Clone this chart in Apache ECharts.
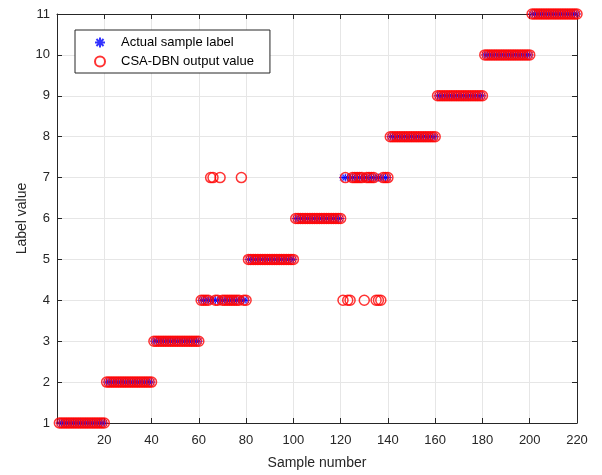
<!DOCTYPE html>
<html>
<head>
<meta charset="utf-8">
<script src="https://cdn.jsdelivr.net/npm/echarts@6/dist/echarts.min.js"></script>
<style>html,body{margin:0;padding:0;background:#fff}#c{width:602px;height:475px}</style>
</head>
<body>
<div id="c"></div>
<script>
// Actual class label of each sample (samples 1..220)
var actualLabel = [
  1,1,1,1,1,1,1,1,1,1,1,1,1,1,1,1,1,1,1,1,
  2,2,2,2,2,2,2,2,2,2,2,2,2,2,2,2,2,2,2,2,
  3,3,3,3,3,3,3,3,3,3,3,3,3,3,3,3,3,3,3,3,
  4,4,4,4,4,4,4,4,4,4,4,4,4,4,4,4,4,4,4,4,
  5,5,5,5,5,5,5,5,5,5,5,5,5,5,5,5,5,5,5,5,
  6,6,6,6,6,6,6,6,6,6,6,6,6,6,6,6,6,6,6,6,
  7,7,7,7,7,7,7,7,7,7,7,7,7,7,7,7,7,7,7,7,
  8,8,8,8,8,8,8,8,8,8,8,8,8,8,8,8,8,8,8,8,
  9,9,9,9,9,9,9,9,9,9,9,9,9,9,9,9,9,9,9,9,
  10,10,10,10,10,10,10,10,10,10,10,10,10,10,10,10,10,10,10,10,
  11,11,11,11,11,11,11,11,11,11,11,11,11,11,11,11,11,11,11,11
];
// CSA-DBN output value of each sample
var outputLabel = [
  1,1,1,1,1,1,1,1,1,1,1,1,1,1,1,1,1,1,1,1,
  2,2,2,2,2,2,2,2,2,2,2,2,2,2,2,2,2,2,2,2,
  3,3,3,3,3,3,3,3,3,3,3,3,3,3,3,3,3,3,3,3,
  4,4,4,4,7,7,4,4,7,4,4,4,4,4,4,4,4,7,4,4,
  5,5,5,5,5,5,5,5,5,5,5,5,5,5,5,5,5,5,5,5,
  6,6,6,6,6,6,6,6,6,6,6,6,6,6,6,6,6,6,6,6,
  4,7,4,4,7,7,7,7,7,4,7,7,7,7,4,4,4,7,7,7,
  8,8,8,8,8,8,8,8,8,8,8,8,8,8,8,8,8,8,8,8,
  9,9,9,9,9,9,9,9,9,9,9,9,9,9,9,9,9,9,9,9,
  10,10,10,10,10,10,10,10,10,10,10,10,10,10,10,10,10,10,10,10,
  11,11,11,11,11,11,11,11,11,11,11,11,11,11,11,11,11,11,11,11
];
var seriesNames = ['Actual sample label', 'CSA-DBN output value'];
var xTickMin = 0, xTickMax = 220, xTickStep = 20;
var yTickMin = 1, yTickMax = 11, yTickStep = 1;

var actualData = actualLabel.map(function (v, i) { return [i + 1, v]; });
var outputData = outputLabel.map(function (v, i) { return [i + 1, v]; });

var font = 'Liberation Sans, Arial, Helvetica, sans-serif';
var axisColor = '#262626';
var starPath = 'path://M0,-10L0,10M-10,0L10,0M-7.07,-7.07L7.07,7.07M-7.07,7.07L7.07,-7.07';

var chart = echarts.init(document.getElementById('c'), null, { renderer: 'canvas' });
var baseAxis = {
  axisLine: { show: true, onZero: false, lineStyle: { color: axisColor, width: 1 } },
  axisTick: { show: true, inside: true, length: 5, lineStyle: { color: axisColor } },
  splitLine: { show: true, lineStyle: { color: '#e6e6e6', width: 1 } }
};
chart.setOption({
  animation: false,
  backgroundColor: '#fff',
  grid: { left: 57, right: 25, top: 14, bottom: 52, containLabel: false },
  legend: {
    orient: 'vertical',
    left: 75, top: 30,
    data: seriesNames,
    backgroundColor: '#fff',
    borderColor: axisColor, borderWidth: 1, borderRadius: 0,
    padding: [6, 16, 5, 19],
    itemWidth: 10, itemHeight: 10, itemGap: 6,
    textStyle: { fontFamily: font, fontSize: 13, color: '#000', padding: [0, 0, 0, 11] }
  },
  xAxis: [
    Object.assign({}, baseAxis, {
      type: 'value', min: xTickMin, max: xTickMax, interval: xTickStep,
      name: 'Sample number', nameLocation: 'middle', nameGap: 33, nameMoveOverlap: false,
      nameTextStyle: { fontFamily: font, fontSize: 14, color: axisColor },
      axisLabel: { fontFamily: font, fontSize: 13, color: axisColor, margin: 11,
        formatter: function (v) { return v === 0 ? '' : String(v); } }
    }),
    Object.assign({}, baseAxis, {
      type: 'value', min: xTickMin, max: xTickMax, interval: xTickStep, position: 'top',
      axisLabel: { show: false }, splitLine: { show: false }
    })
  ],
  yAxis: [
    Object.assign({}, baseAxis, {
      type: 'value', min: yTickMin, max: yTickMax, interval: yTickStep,
      name: 'Label value', nameLocation: 'middle', nameGap: 28, nameMoveOverlap: false,
      nameTextStyle: { fontFamily: font, fontSize: 14, color: axisColor },
      axisLabel: { fontFamily: font, fontSize: 13, color: axisColor, margin: 7 }
    }),
    Object.assign({}, baseAxis, {
      type: 'value', min: yTickMin, max: yTickMax, interval: yTickStep, position: 'right',
      axisLabel: { show: false }, splitLine: { show: false }
    })
  ],
  series: [
    {
      name: seriesNames[0], type: 'scatter', data: actualData,
      xAxisIndex: 0, yAxisIndex: 0,
      symbol: starPath, symbolSize: 8,
      itemStyle: { color: 'rgba(0,0,255,0)', borderColor: '#0000ff', borderWidth: 1 },
      clip: false
    },
    {
      name: seriesNames[1], type: 'scatter', data: outputData,
      xAxisIndex: 0, yAxisIndex: 0,
      symbol: 'circle', symbolSize: 10,
      itemStyle: { color: 'rgba(255,0,0,0)', borderColor: '#ff0000', borderWidth: 1.5 },
      clip: false
    }
  ]
});
</script>
</body>
</html>
